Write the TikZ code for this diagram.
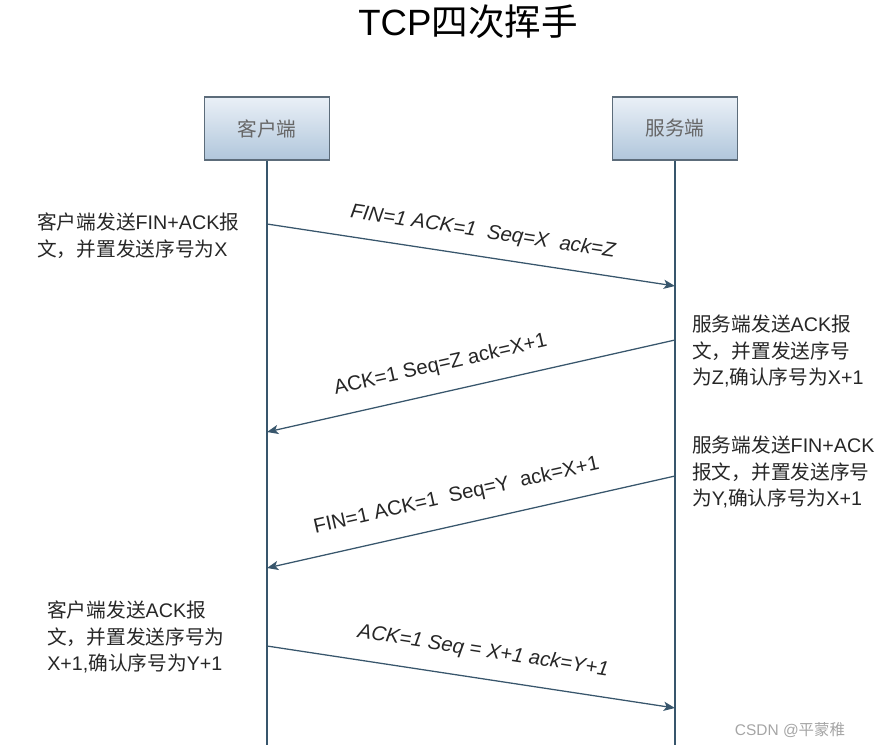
\documentclass[tikz,border=0pt]{standalone}
\usepackage{fontspec}
\setmainfont{Liberation Sans}
\newfontfamily\cjk{Noto Sans CJK SC}
\usetikzlibrary{arrows.meta}
\definecolor{LineClr}{RGB}{56,86,108}
\definecolor{BoxTop}{RGB}{234,240,247}
\definecolor{BoxBot}{RGB}{176,198,219}
\definecolor{BoxBorder}{RGB}{92,108,122}
\definecolor{TextClr}{RGB}{38,38,38}
\definecolor{MarkClr}{RGB}{165,165,165}

\begin{document}
\begin{tikzpicture}[x=0.025cm,y=-0.025cm,
  hostbox/.style={draw=BoxBorder,line width=0.9pt,top color=BoxTop,bottom color=BoxBot,
    minimum width=3.125cm,minimum height=1.575cm,text=black!60,font=\fontsize{14pt}{16pt}\cjk},
  lifeline/.style={draw=LineClr,line width=0.9pt},
  msg/.style={draw=LineClr,line width=0.9pt,-{Stealth[length=8pt,width=6.5pt,inset=2pt]}},
  msglabel/.style={sloped,inner sep=0pt,text=TextClr,font=\fontsize{14.5pt}{16pt}\selectfont},
  note/.style={anchor=west,inner sep=0pt,align=left,text=TextClr,font=\fontsize{14pt}{19pt}\selectfont}]
\useasboundingbox (0,0) rectangle (880,745);

% title
\node[font=\fontsize{26pt}{30pt}\selectfont] (title) at (468,22) {TCP{\cjk 四次挥手}};

% hosts and lifelines
\node[hostbox] (client) at (267,128.5) {客户端};
\node[hostbox] (server) at (675,128.5) {服务端};
\coordinate (cEnd) at (267,745);
\coordinate (sEnd) at (675,745);
\draw[lifeline] (client.south) -- (cEnd);
\draw[lifeline] (server.south) -- (sEnd);

% message points
\coordinate (c1) at (267,224); \coordinate (s1) at (675,286);
\coordinate (s2) at (675,340); \coordinate (c2) at (267,432);
\coordinate (s3) at (675,476); \coordinate (c3) at (267,568);
\coordinate (c4) at (267,646); \coordinate (s4) at (675,708);

\draw[msg] (c1) -- node[msglabel,pos=0.52,above=10pt,font=\fontsize{14.5pt}{16pt}\itshape] (m1) {FIN=1 ACK=1 \ Seq=X \ ack=Z} (s1);
\draw[msg] (s2) -- node[msglabel,pos=0.56,above=12pt] (m2) {ACK=1 Seq=Z ack=X+1} (c2);
\draw[msg] (s3) -- node[msglabel,pos=0.52,above=13pt] (m3) {FIN=1 ACK=1 \ Seq=Y \ ack=X+1} (c3);
\draw[msg] (c4) -- node[msglabel,pos=0.52,above=12pt,font=\fontsize{14.5pt}{16pt}\itshape] (m4) {ACK=1 Seq = X+1 ack=Y+1} (s4);

% notes
\node[note] (n1) at (37,236) {{\cjk 客户端发送}FIN+ACK{\cjk 报}\\{\cjk 文，并置发送序号为}X};
\node[note] (n2) at (692,351) {{\cjk 服务端发送}ACK{\cjk 报}\\{\cjk 文，并置发送序号}\\{\cjk 为}Z,{\cjk 确认序号为}X+1};
\node[note] (n3) at (692,472) {{\cjk 服务端发送}FIN+ACK\\{\cjk 报文，并置发送序号}\\{\cjk 为}Y,{\cjk 确认序号为}X+1};
\node[note] (n4) at (47,637) {{\cjk 客户端发送}ACK{\cjk 报}\\{\cjk 文，并置发送序号为}\\X+1,{\cjk 确认序号为}Y+1};

% watermark
\node[text=MarkClr,font=\fontsize{11pt}{13pt}\selectfont] (mark) at (790,730) {CSDN @{\cjk 平蒙稚}};
\end{tikzpicture}
\end{document}
